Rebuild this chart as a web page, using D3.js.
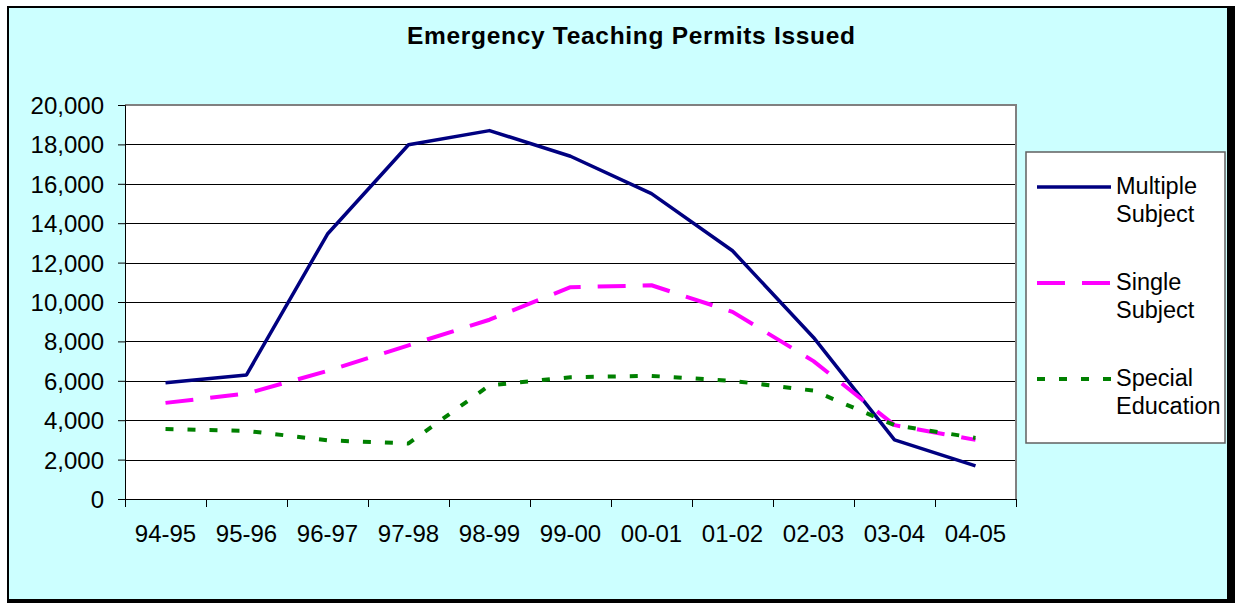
<!DOCTYPE html>
<html>
<head>
<meta charset="utf-8">
<script src="https://cdn.jsdelivr.net/npm/d3@7"></script>
<style>
  body { margin: 0; background: #fff; }
  svg text { font-family: "Liberation Sans", Arial, sans-serif; fill: #000; }
</style>
</head>
<body>
<div class="chart"></div>
<script>
// Data
const years = ["94-95", "95-96", "96-97", "97-98", "98-99", "99-00", "00-01", "01-02", "02-03", "03-04", "04-05"];
const multipleSubject = [5900, 6300, 13450, 17980, 18700, 17400, 15500, 12600, 8200, 3000, 1680];
const singleSubject = [4880, 5350, 6500, 7800, 9100, 10750, 10850, 9500, 7000, 3750, 3000];
const specialEducation = [3550, 3460, 2980, 2820, 5770, 6180, 6250, 6000, 5500, 3750, 3100];
const yTicks = [0, 2000, 4000, 6000, 8000, 10000, 12000, 14000, 16000, 18000, 20000];

const series = [
  { name: ["Multiple", "Subject"], values: multipleSubject, color: "#000080", width: 3.5, dash: null },
  { name: ["Single", "Subject"], values: singleSubject, color: "#FF00FF", width: 4, dash: "28,17" },
  { name: ["Special", "Education"], values: specialEducation, color: "#008000", width: 4, dash: "8,14" }
];

const W = 1235, H = 603;
const plot = { left: 125, top: 105, right: 1016, bottom: 499 };

const svg = d3.select(".chart").append("svg")
  .attr("width", W)
  .attr("height", H);

// outer chart area with shadow
svg.append("rect").attr("x", 1228).attr("y", 6).attr("width", 7).attr("height", 597).attr("fill", "#000");
svg.append("rect").attr("x", 7).attr("y", 600).attr("width", 1228).attr("height", 3).attr("fill", "#000");
svg.append("rect")
  .attr("x", 8).attr("y", 7).attr("width", 1220).attr("height", 593)
  .attr("fill", "#CCFFFF").attr("stroke", "#000").attr("stroke-width", 2);

// title
svg.append("text")
  .attr("x", 407).attr("y", 44)
  .attr("textLength", 448)
  .attr("lengthAdjust", "spacing")
  .style("font-size", "24.5px").style("font-weight", "bold")
  .text("Emergency Teaching Permits Issued");

// scales
const x = d3.scaleBand().domain(years).range([plot.left, plot.right]);
const y = d3.scaleLinear().domain([0, 20000]).range([plot.bottom, plot.top]);

// plot area
svg.append("rect")
  .attr("x", plot.left).attr("y", plot.top)
  .attr("width", plot.right - plot.left).attr("height", plot.bottom - plot.top)
  .attr("fill", "#fff");

// gridlines
svg.append("g").selectAll("line")
  .data(yTicks.filter(d => d > 0 && d < 20000))
  .join("line")
  .attr("x1", plot.left).attr("x2", plot.right)
  .attr("y1", d => Math.round(y(d)) + 0.5).attr("y2", d => Math.round(y(d)) + 0.5)
  .attr("stroke", "#000").attr("stroke-width", 1);

// plot border (top and right grey)
svg.append("path")
  .attr("d", `M${plot.left},${plot.top} H${plot.right} V${plot.bottom}`)
  .attr("fill", "none").attr("stroke", "#808080").attr("stroke-width", 2);

// y axis
const yAxis = svg.append("g")
  .attr("transform", `translate(${plot.left},0)`)
  .call(d3.axisLeft(y).tickValues(yTicks).tickSize(7).tickPadding(14).tickFormat(d3.format(",")));
yAxis.select(".domain").attr("stroke", "#000");
yAxis.selectAll(".tick line").attr("stroke", "#000");
yAxis.selectAll("text").style("font-size", "24px").attr("dy", "0.35em");

// x axis, ticks between categories
const xg = svg.append("g").attr("transform", `translate(0,${plot.bottom})`);
xg.append("line").attr("x1", plot.left).attr("x2", plot.right).attr("y1", 0.5).attr("y2", 0.5)
  .attr("stroke", "#000");
const bounds = years.map(d => x(d)).concat([plot.right]);
xg.selectAll(".xt").data(bounds).join("line")
  .attr("x1", d => Math.round(d) + 0.5).attr("x2", d => Math.round(d) + 0.5)
  .attr("y1", 0).attr("y2", 8)
  .attr("stroke", "#000");
xg.selectAll(".xl").data(years).join("text")
  .attr("x", d => x(d) + x.bandwidth() / 2)
  .attr("y", 43)
  .attr("text-anchor", "middle")
  .style("font-size", "24px")
  .text(d => d);

// lines
const line = d3.line()
  .x((d, i) => x(years[i]) + x.bandwidth() / 2)
  .y(d => y(d));

svg.append("g").selectAll("path")
  .data(series)
  .join("path")
  .attr("d", d => line(d.values))
  .attr("fill", "none")
  .attr("stroke", d => d.color)
  .attr("stroke-width", d => d.width)
  .attr("stroke-dasharray", d => d.dash)
  .attr("stroke-linejoin", "round");

// legend
const lg = svg.append("g");
lg.append("rect")
  .attr("x", 1026).attr("y", 152).attr("width", 199).attr("height", 291)
  .attr("fill", "#fff").attr("stroke", "#606060").attr("stroke-width", 1.5);

const items = lg.selectAll(".item").data(series).join("g")
  .attr("transform", (d, i) => `translate(0,${187 + i * 96})`);
items.append("line")
  .attr("x1", 1037).attr("x2", 1111).attr("y1", 0).attr("y2", 0)
  .attr("stroke", d => d.color)
  .attr("stroke-width", d => d.width)
  .attr("stroke-dasharray", d => d.dash);
items.append("text")
  .attr("x", 1116).attr("y", 7)
  .style("font-size", "23.5px")
  .text(d => d.name[0]);
items.append("text")
  .attr("x", 1116).attr("y", 35)
  .style("font-size", "23.5px")
  .text(d => d.name[1]);
</script>
</body>
</html>
